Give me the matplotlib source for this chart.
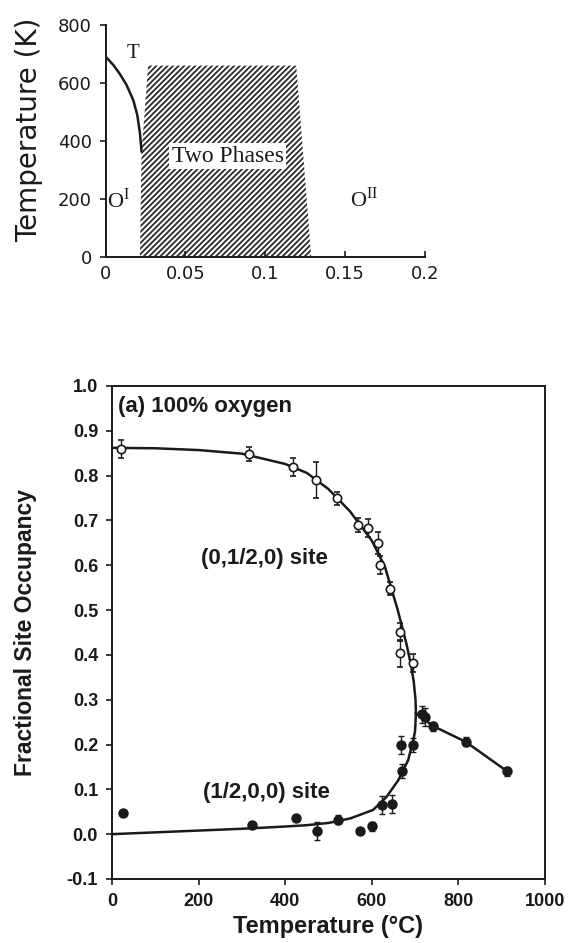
import matplotlib
matplotlib.use("Agg")
import matplotlib.pyplot as plt
from matplotlib.ticker import FormatStrFormatter

plt.rcParams["axes.unicode_minus"] = False
plt.rcParams["hatch.linewidth"] = 1.3
plt.rcParams["mathtext.fontset"] = "custom"
plt.rcParams["mathtext.rm"] = "Liberation Serif"

INK = "#1a1a1a"

# ---------------- phase diagram data ----------------
boundary_x = [0.0, 0.0048, 0.0089, 0.0131, 0.0173, 0.0198, 0.0215, 0.0225]
boundary_T = [691, 662, 631, 593, 541, 490, 427, 363]
two_phase_x = [0.0215, 0.0225, 0.0266, 0.1194, 0.1288]
two_phase_T = [0, 358, 660, 660, 0]
phase_x_ticks = [0, 0.05, 0.1, 0.15, 0.2]
phase_x_labels = ["0", "0.05", "0.1", "0.15", "0.2"]
phase_T_ticks = [0, 200, 400, 600, 800]

# ---------------- site occupancy data ----------------
# (0,1/2,0) site, open symbols
open_T = [20, 317, 419, 471, 519, 569, 592, 615, 619, 642, 665, 665, 696]
open_occ = [0.859, 0.848, 0.820, 0.790, 0.749, 0.690, 0.683, 0.650, 0.600,
            0.548, 0.452, 0.404, 0.381]
open_err = [0.02, 0.015, 0.02, 0.04, 0.015, 0.015, 0.02, 0.025, 0.02,
            0.015, 0.02, 0.03, 0.02]

# (1/2,0,0) site, filled symbols
filled_T = [26, 323, 425, 474, 521, 574, 600, 623, 646, 669, 667, 695,
            715, 723, 742, 817, 913]
filled_occ = [0.048, 0.020, 0.037, 0.008, 0.032, 0.007, 0.018, 0.065, 0.068,
              0.141, 0.199, 0.199, 0.267, 0.262, 0.241, 0.206, 0.140]
filled_err = [0, 0, 0, 0.02, 0.01, 0, 0.01, 0.02, 0.02, 0.015, 0.02, 0.015,
              0.02, 0.02, 0.01, 0.01, 0.01]

# fitted order-parameter curves
upper_T = [0, 100, 200, 300, 400, 450, 500, 550, 600, 630, 660, 680, 690,
           697, 701, 702]
upper_occ = [0.862, 0.861, 0.857, 0.849, 0.826, 0.806, 0.770, 0.720, 0.655,
             0.598, 0.500, 0.425, 0.380, 0.340, 0.300, 0.270]
lower_T = [0, 100, 200, 300, 400, 450, 500, 550, 603, 634, 661, 684, 696,
           700, 702]
lower_occ = [0.0, 0.004, 0.008, 0.012, 0.017, 0.020, 0.025, 0.035, 0.054,
             0.083, 0.120, 0.165, 0.210, 0.230, 0.270]
high_T = [702, 742, 817, 913]
high_occ = [0.270, 0.241, 0.206, 0.140]

occ_x_ticks = [0, 200, 400, 600, 800, 1000]
occ_y_ticks = [-0.1, 0.0, 0.1, 0.2, 0.3, 0.4, 0.5, 0.6, 0.7, 0.8, 0.9, 1.0]

fig = plt.figure(figsize=(5.68, 9.43), dpi=100)

# ================= top: phase diagram =================
ax1 = fig.add_axes([0.186, 0.7275, 0.562, 0.246])
ax1.fill(two_phase_x, two_phase_T, facecolor="white", edgecolor="#2a2a2a",
         hatch="//////", linewidth=0)
ax1.plot(boundary_x, boundary_T, color=INK, lw=1.8, solid_capstyle="round")
ax1.set_xlim(0, 0.2)
ax1.set_ylim(0, 800)
ax1.set_xticks(phase_x_ticks)
ax1.set_xticklabels(phase_x_labels)
ax1.set_yticks(phase_T_ticks)
for s in ("top", "right"):
    ax1.spines[s].set_visible(False)
for s in ("left", "bottom"):
    ax1.spines[s].set_linewidth(1.4)
    ax1.spines[s].set_color(INK)
ax1.tick_params(axis="y", direction="out", length=4, width=1.2, pad=6,
                labelsize=13, colors=INK)
ax1.tick_params(axis="x", direction="in", length=4, width=1.2, pad=6,
                labelsize=13, colors=INK)
ax1.set_ylabel("Temperature (K)", fontsize=20, color=INK)
ax1.yaxis.set_label_coords(-0.195, 0.55)

serif = "Liberation Serif"
ax1.text(0.0169, 702, "T", family=serif, fontsize=15, ha="center",
         va="center", color=INK)
ax1.text(0.0079, 197, r"$\mathrm{O}^{\mathrm{I}}$", fontsize=16,
         ha="center", va="center", color=INK)
ax1.text(0.162, 200, r"$\mathrm{O}^{\mathrm{II}}$", fontsize=16,
         ha="center", va="center", color=INK)
ax1.text(0.0764, 348, "Two Phases", family=serif, fontsize=17, ha="center",
         va="center", color=INK,
         bbox=dict(facecolor="white", edgecolor="none", pad=1.5))

# ================= bottom: site occupancy =================
ax2 = fig.add_axes([0.197, 0.0679, 0.7625, 0.5228])
ax2.plot(upper_T, upper_occ, color=INK, lw=1.8)
ax2.plot(lower_T, lower_occ, color=INK, lw=1.8)
ax2.plot(high_T, high_occ, color=INK, lw=1.8)
ax2.errorbar(open_T, open_occ, yerr=open_err, fmt="o", ms=6,
             mfc="white", mec=INK, mew=1.2, ecolor=INK, elinewidth=1.0,
             capsize=2, zorder=4)
ax2.errorbar(filled_T, filled_occ, yerr=filled_err, fmt="o", ms=6.5,
             mfc=INK, mec=INK, ecolor=INK, elinewidth=1.0, capsize=2,
             zorder=4)

ax2.set_xlim(0, 1000)
ax2.set_ylim(-0.1, 1.0)
ax2.set_xticks(occ_x_ticks)
ax2.set_yticks(occ_y_ticks)
ax2.yaxis.set_major_formatter(FormatStrFormatter("%.1f"))
for s in ax2.spines.values():
    s.set_linewidth(1.4)
    s.set_color(INK)
ax2.tick_params(direction="out", length=4, width=1.2, labelsize=13,
                colors=INK, pad=6)
for lab in ax2.get_xticklabels() + ax2.get_yticklabels():
    lab.set_fontfamily("Liberation Sans")
    lab.set_fontweight("bold")

ax2.set_xlabel("Temperature (°C)", family="Liberation Sans",
               fontweight="bold", fontsize=17, color=INK, labelpad=4)
ax2.set_ylabel("Fractional Site Occupancy", family="Liberation Sans",
               fontweight="bold", fontsize=16.5, color=INK)
ax2.yaxis.set_label_coords(-0.172, 0.5)

ax2.text(14, 0.954, "(a) 100% oxygen", family="Liberation Sans",
         fontweight="bold", fontsize=16, ha="left", va="center", color=INK)
ax2.text(353, 0.616, "(0,1/2,0) site", family="Liberation Sans",
         fontweight="bold", fontsize=16, ha="center", va="center", color=INK)
ax2.text(357, 0.094, "(1/2,0,0) site", family="Liberation Sans",
         fontweight="bold", fontsize=16, ha="center", va="center", color=INK)

fig.savefig("out.png", dpi=100, facecolor="white")
